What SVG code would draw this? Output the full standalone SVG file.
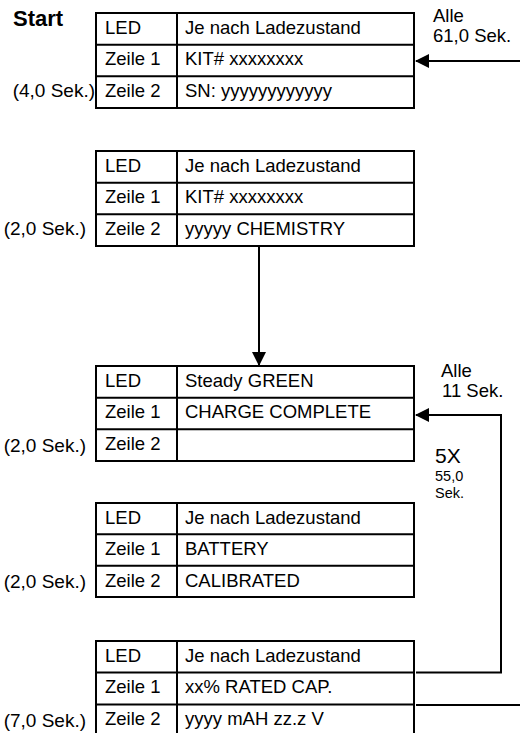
<svg xmlns="http://www.w3.org/2000/svg" width="520" height="733" viewBox="0 0 520 733">
<style>
  .box { fill: #ffffff; stroke: #000000; stroke-width: 2; }
  .ln { stroke: #000000; stroke-width: 2; fill: none; }
  .t { font-family: "Liberation Sans", Arial, sans-serif; font-size: 18.5px; fill: #000000; }
  .lbl { font-family: "Liberation Sans", Arial, sans-serif; font-size: 19px; fill: #000000; text-anchor: end; }
  .small { font-family: "Liberation Sans", Arial, sans-serif; font-size: 14.5px; fill: #000000; }
  .big { font-family: "Liberation Sans", Arial, sans-serif; font-size: 21px; fill: #000000; }
  .start { font-family: "Liberation Sans", Arial, sans-serif; font-size: 22px; font-weight: bold; fill: #000000; }
  .conn { stroke: #000000; stroke-width: 2; fill: none; }
</style>
<defs>
  <marker id="arr" viewBox="0 0 14 14" refX="13" refY="7" markerWidth="14" markerHeight="14" markerUnits="userSpaceOnUse" orient="auto">
    <path d="M0,0 L14,7 L0,14 z" fill="#000000"/>
  </marker>
</defs>
<rect width="520" height="733" fill="#ffffff"/>

<text class="start" x="13" y="26">Start</text>

<g id="screen1">
  <rect class="box" x="96" y="13" width="318" height="95"/>
  <line class="ln" x1="96" y1="44.7" x2="414" y2="44.7"/>
  <line class="ln" x1="96" y1="76.3" x2="414" y2="76.3"/>
  <line class="ln" x1="177" y1="13" x2="177" y2="108"/>
  <text class="t" x="105" y="33.5">LED</text>
  <text class="t" x="185" y="33.5">Je nach Ladezustand</text>
  <text class="t" x="105" y="65.2">Zeile 1</text>
  <text class="t" x="185" y="65.2">KIT# xxxxxxxx</text>
  <text class="t" x="105" y="96.8">Zeile 2</text>
  <text class="t" x="185" y="96.8">SN: yyyyyyyyyyyy</text>
  <text class="lbl" x="95" y="96.8">(4,0 Sek.)</text>
</g>

<g id="screen2">
  <rect class="box" x="96" y="151" width="318" height="95"/>
  <line class="ln" x1="96" y1="182.7" x2="414" y2="182.7"/>
  <line class="ln" x1="96" y1="214.3" x2="414" y2="214.3"/>
  <line class="ln" x1="177" y1="151" x2="177" y2="246"/>
  <text class="t" x="105" y="171.5">LED</text>
  <text class="t" x="185" y="171.5">Je nach Ladezustand</text>
  <text class="t" x="105" y="203.2">Zeile 1</text>
  <text class="t" x="185" y="203.2">KIT# xxxxxxxx</text>
  <text class="t" x="105" y="234.8">Zeile 2</text>
  <text class="t" x="185" y="234.8">yyyyy CHEMISTRY</text>
  <text class="lbl" x="86" y="234.8">(2,0 Sek.)</text>
</g>

<g id="screen3">
  <rect class="box" x="96" y="366" width="318" height="95"/>
  <line class="ln" x1="96" y1="397.7" x2="414" y2="397.7"/>
  <line class="ln" x1="96" y1="429.3" x2="414" y2="429.3"/>
  <line class="ln" x1="177" y1="366" x2="177" y2="461"/>
  <text class="t" x="105" y="386.5">LED</text>
  <text class="t" x="185" y="386.5">Steady GREEN</text>
  <text class="t" x="105" y="418.2">Zeile 1</text>
  <text class="t" x="185" y="418.2">CHARGE COMPLETE</text>
  <text class="t" x="105" y="449.8">Zeile 2</text>
  <text class="lbl" x="86" y="452">(2,0 Sek.)</text>
</g>

<g id="screen4">
  <rect class="box" x="96" y="503" width="318" height="94"/>
  <line class="ln" x1="96" y1="534.3" x2="414" y2="534.3"/>
  <line class="ln" x1="96" y1="565.7" x2="414" y2="565.7"/>
  <line class="ln" x1="177" y1="503" x2="177" y2="597"/>
  <text class="t" x="105" y="523.5">LED</text>
  <text class="t" x="185" y="523.5">Je nach Ladezustand</text>
  <text class="t" x="105" y="555">Zeile 1</text>
  <text class="t" x="185" y="555">BATTERY</text>
  <text class="t" x="105" y="586.5">Zeile 2</text>
  <text class="t" x="185" y="586.5">CALIBRATED</text>
  <text class="lbl" x="86" y="587.5">(2,0 Sek.)</text>
</g>

<g id="screen5">
  <rect class="box" x="96" y="641" width="318" height="95"/>
  <line class="ln" x1="96" y1="672.5" x2="414" y2="672.5"/>
  <line class="ln" x1="96" y1="704.5" x2="414" y2="704.5"/>
  <line class="ln" x1="177" y1="641" x2="177" y2="736"/>
  <text class="t" x="105" y="661.5">LED</text>
  <text class="t" x="185" y="661.5">Je nach Ladezustand</text>
  <text class="t" x="105" y="693">Zeile 1</text>
  <text class="t" x="185" y="693">xx% RATED CAP.</text>
  <text class="t" x="105" y="725">Zeile 2</text>
  <text class="t" x="185" y="725">yyyy mAH zz.z V</text>
  <text class="lbl" x="86" y="727">(7,0 Sek.)</text>
</g>

<g id="labels">
  <text class="t" x="433" y="22">Alle</text>
  <text class="t" x="433" y="42">61,0 Sek.</text>
  <text class="t" x="441" y="377">Alle</text>
  <text class="t" x="442" y="397">11 Sek.</text>
  <text class="big" x="435" y="463">5X</text>
  <text class="small" x="435" y="481">55,0</text>
  <text class="small" x="435" y="498">Sek.</text>
</g>

<g id="connectors">
  <line class="conn" x1="520" y1="61" x2="416" y2="61" marker-end="url(#arr)"/>
  <line class="conn" x1="259" y1="246" x2="259" y2="365" marker-end="url(#arr)"/>
  <polyline class="conn" points="416,672.5 501,672.5 501,415 416,415" marker-end="url(#arr)"/>
  <line class="conn" x1="416" y1="705" x2="520" y2="705"/>
</g>
</svg>
